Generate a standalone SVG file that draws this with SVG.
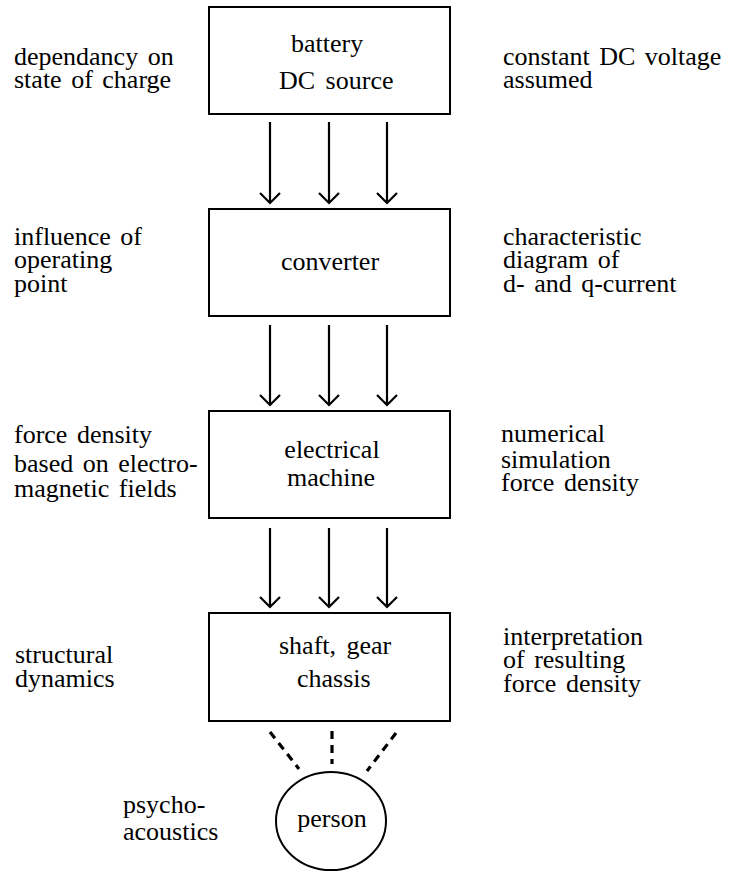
<svg xmlns="http://www.w3.org/2000/svg" width="743" height="871" viewBox="0 0 743 871">
<style>
text { font-family: "Liberation Serif", "Times New Roman", serif; font-size: 26px; fill: #000; }
.box { fill: #fff; stroke: #000; stroke-width: 2; }
.arr { fill: none; stroke: #000; stroke-width: 2.2; stroke-linecap: butt; }
.dash { fill: none; stroke: #000; stroke-width: 3.2; stroke-dasharray: 8 6; }
</style>
<rect width="743" height="871" fill="#fff"/>

<g id="connectors">
  <path class="arr" d="M270,122 V203 M260,193 L270,203 L280,193"/>
  <path class="arr" d="M329,122 V203 M319,193 L329,203 L339,193"/>
  <path class="arr" d="M387,122 V203 M377,193 L387,203 L397,193"/>
  <path class="arr" d="M270,325 V405 M260,395 L270,405 L280,395"/>
  <path class="arr" d="M329,325 V405 M319,395 L329,405 L339,395"/>
  <path class="arr" d="M387,325 V405 M377,395 L387,405 L397,395"/>
  <path class="arr" d="M270,528 V607 M260,597 L270,607 L280,597"/>
  <path class="arr" d="M329,528 V607 M319,597 L329,607 L339,597"/>
  <path class="arr" d="M387,528 V607 M377,597 L387,607 L397,597"/>
  <line class="dash" x1="270" y1="732" x2="299" y2="769"/>
  <line class="dash" x1="332" y1="731" x2="332" y2="764"/>
  <line class="dash" x1="396" y1="733" x2="367" y2="771"/>
</g>

<g id="battery">
  <rect class="box" x="209" y="7" width="241" height="107"/>
  <text x="291" y="52">battery</text>
  <text x="279" y="89" word-spacing="4">DC source</text>
</g>
<g id="converter">
  <rect class="box" x="209" y="209" width="241" height="107"/>
  <text x="330" y="270" text-anchor="middle">converter</text>
</g>
<g id="machine">
  <rect class="box" x="209" y="411" width="241" height="107"/>
  <text x="332" y="458" text-anchor="middle">electrical</text>
  <text x="331" y="486" text-anchor="middle">machine</text>
</g>
<g id="shaft">
  <rect class="box" x="209" y="613" width="241" height="108"/>
  <text x="279" y="654" word-spacing="4">shaft, gear</text>
  <text x="297" y="687">chassis</text>
</g>
<g id="person">
  <ellipse cx="331" cy="821" rx="55" ry="49" fill="#fff" stroke="#000" stroke-width="2"/>
  <text x="332" y="827" text-anchor="middle">person</text>
</g>

<g id="labels-left">
  <text x="14" y="65" word-spacing="3">dependancy on</text>
  <text x="14" y="88" word-spacing="3">state of charge</text>
  <text x="14" y="245" word-spacing="3">influence of</text>
  <text x="14" y="268">operating</text>
  <text x="14" y="292">point</text>
  <text x="14" y="443" word-spacing="3">force density</text>
  <text x="14" y="472" word-spacing="3">based on electro-</text>
  <text x="14" y="497" word-spacing="3">magnetic fields</text>
  <text x="15" y="663">structural</text>
  <text x="15" y="687">dynamics</text>
  <text x="123" y="813">psycho-</text>
  <text x="123" y="840">acoustics</text>
</g>

<g id="labels-right">
  <text x="503" y="65" word-spacing="3">constant DC voltage</text>
  <text x="503" y="88">assumed</text>
  <text x="503" y="245">characteristic</text>
  <text x="503" y="268" word-spacing="3">diagram of</text>
  <text x="503" y="292" word-spacing="3">d- and q-current</text>
  <text x="501" y="442">numerical</text>
  <text x="501" y="468">simulation</text>
  <text x="501" y="491" word-spacing="3">force density</text>
  <text x="503" y="645">interpretation</text>
  <text x="503" y="668" word-spacing="3">of resulting</text>
  <text x="503" y="692" word-spacing="3">force density</text>
</g>
</svg>
